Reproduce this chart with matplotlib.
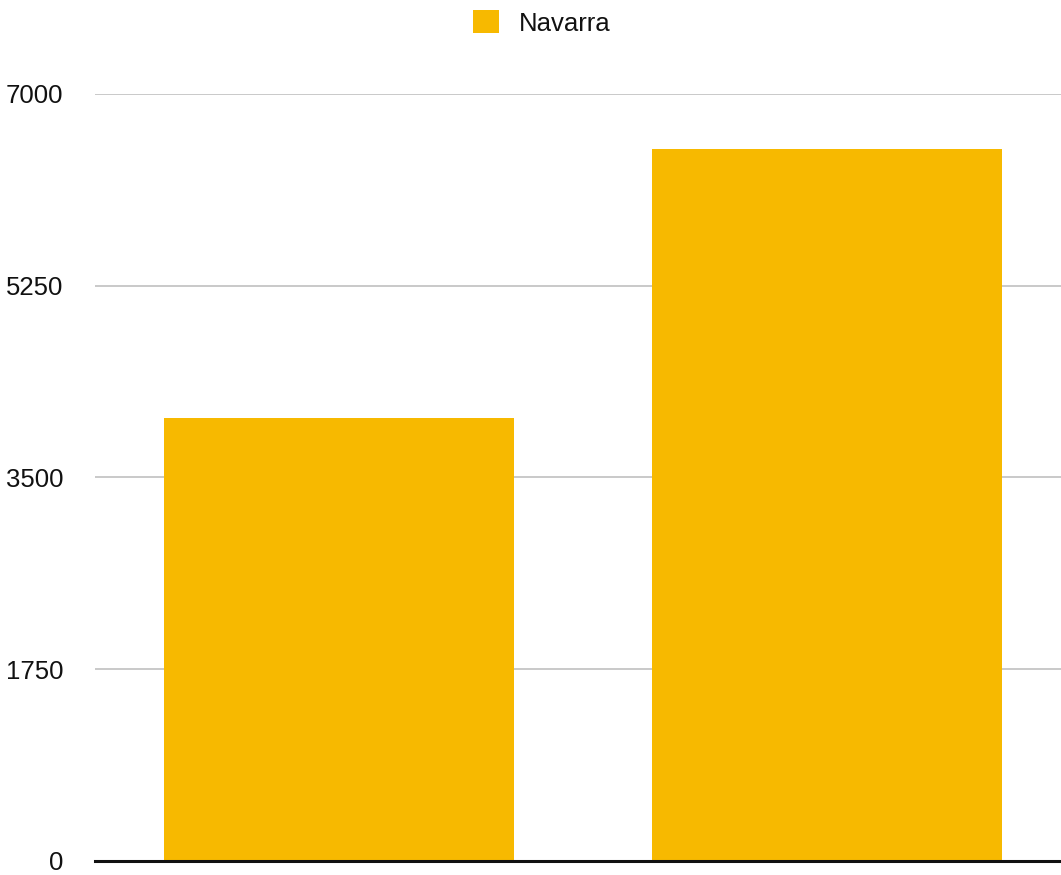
import matplotlib.pyplot as plt

plt.rcParams['font.family'] = ['Liberation Sans', 'DejaVu Sans']

categories = ['A', 'B']
values = [4040, 6500]
series_name = 'Navarra'
y_ticks = [0, 1750, 3500, 5250, 7000]

BAR_COLOR = '#F7B900'
GRID_COLOR = '#BBBBBB'
TEXT_COLOR = '#111111'

W, H, DPI = 1061, 875, 100
fig = plt.figure(figsize=(W / DPI, H / DPI), dpi=DPI)
ax = fig.add_axes([95 / W, (H - 861) / H, (W - 95) / W, (861 - 94) / H])

x = list(range(len(categories)))
ax.bar(x, values, width=0.717, color=BAR_COLOR, label=series_name, zorder=2)

ax.set_xlim(-0.5, 1.48)
ax.set_ylim(0, 7000)
ax.set_yticks(y_ticks)
ax.set_yticklabels([str(t) for t in y_ticks])
ax.set_xticks([])

ax.yaxis.grid(True, color=GRID_COLOR, linewidth=1.1, zorder=0)
ax.set_axisbelow(True)
ax.axhline(0, color='#111111', linewidth=2.2, zorder=3, clip_on=False)

for side in ['top', 'right', 'left', 'bottom']:
    ax.spines[side].set_visible(False)

ax.tick_params(axis='y', length=0, pad=23, labelsize=18.5, labelcolor=TEXT_COLOR)

fig.legend(
    loc='center',
    bbox_to_anchor=(542 / W, 1 - 23 / H),
    frameon=False,
    fontsize=18.5,
    handlelength=1.0,
    handleheight=1.0,
    handletextpad=0.8,
    labelcolor=TEXT_COLOR,
)

fig.savefig('out.png', dpi=DPI)
